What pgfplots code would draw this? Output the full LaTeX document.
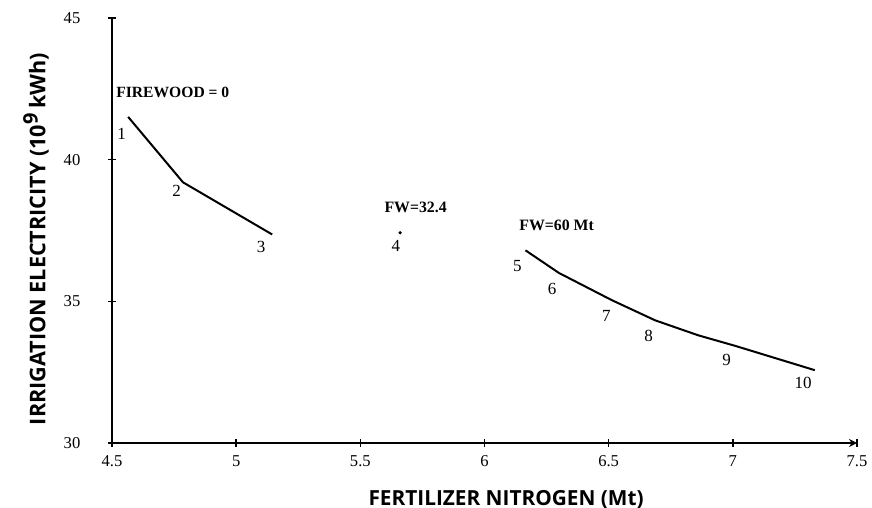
\documentclass[border=0pt]{standalone}
\usepackage{fontspec}
\setmainfont{Liberation Serif}
\newfontfamily\labelfont{Open Sans}
\usepackage{pgfplots}
\pgfplotsset{compat=1.18}
\usetikzlibrary{arrows.meta}
\begin{document}
\begin{tikzpicture}
\begin{axis}[
  scale only axis,
  width=372.5pt, height=212.5pt,
  xmin=4.5, xmax=7.5, ymin=30, ymax=45,
  axis lines=left,
  axis line style={line width=0.9pt, -},
  x axis line style={-{Stealth[length=4pt,width=4pt]}},
  xtick={4.5,5,5.5,6,6.5,7,7.5},
  xticklabels={4.5,5,5.5,6,6.5,7,7.5},
  ytick={30,35,40,45},
  tick align=center,
  major tick length=4pt,
  tick style={line width=0.8pt, black},
  /pgf/number format/assume math mode=true,
  ticklabel style={font=\fontsize{8.3}{9}\selectfont},
  xticklabel style={anchor=center, yshift=-7pt},
  yticklabel style={anchor=center, xshift=-18pt},
  clip=false,
]
\addplot[black, line width=1pt] coordinates {
  (4.565,41.51) (4.786,39.20) (5.145,37.36)
};
\addplot[black, line width=1pt] coordinates {
  (6.165,36.80) (6.30,36.00) (6.513,35.04) (6.687,34.33) (6.861,33.80) (7.009,33.43) (7.33,32.57)
};
\addplot[black, only marks, mark=*, mark size=0.6pt] coordinates {(5.66,37.42)};

\begin{scope}[font=\fontsize{8.5}{9}\selectfont]
\node at (axis cs:4.539,40.90) {1};
\node at (axis cs:4.76,38.91) {2};
\node at (axis cs:5.101,36.91) {3};
\node at (axis cs:5.643,36.97) {4};
\node at (axis cs:6.132,36.23) {5};
\node at (axis cs:6.272,35.45) {6};
\node at (axis cs:6.491,34.47) {7};
\node at (axis cs:6.661,33.78) {8};
\node at (axis cs:6.975,32.92) {9};
\node at (axis cs:7.283,32.12) {10};
\node[anchor=west, inner sep=0pt, font=\fontsize{7.8}{9}\selectfont\bfseries] at (axis cs:4.516,42.37) {FIREWOOD = 0};
\node[anchor=west, inner sep=0pt, font=\fontsize{7.9}{9}\selectfont\bfseries] at (axis cs:5.596,38.30) {FW=32.4};
\node[anchor=west, inner sep=0pt, font=\fontsize{7.9}{9}\selectfont\bfseries] at (axis cs:6.139,37.68) {FW=60 Mt};
\end{scope}

\node[font=\labelfont\bfseries\fontsize{10.4}{12}\selectfont] at (rel axis cs:0.529,-0.134) {FERTILIZER NITROGEN (Mt)};
\node[rotate=90, font=\labelfont\bfseries\fontsize{10.8}{12}\selectfont] at (rel axis cs:-0.102,0.48) {IRRIGATION ELECTRICITY (10\textsuperscript{\normalsize 9}\,kWh)};

\coordinate (SW) at (rel axis cs:0,0);
\coordinate (NE) at (rel axis cs:1,1);
\end{axis}
\pgfresetboundingbox
\path[use as bounding box] ([shift={(-56pt,-32.5pt)}]SW) rectangle ([shift={(7.5pt,9pt)}]NE);
\end{tikzpicture}
\end{document}
